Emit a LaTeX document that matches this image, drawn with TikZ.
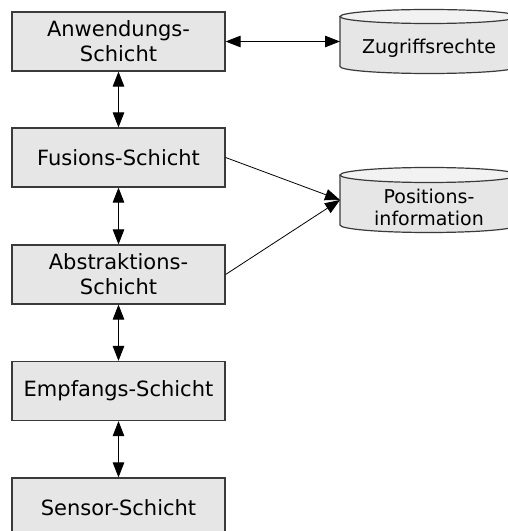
\documentclass[tikz,border=0pt]{standalone}
\usepackage{fontspec}
\setmainfont{DejaVu Sans}
\usetikzlibrary{arrows.meta}
\definecolor{boxfill}{HTML}{E6E6E6}
\definecolor{boxline}{HTML}{3A3A3A}
\definecolor{lidfill}{HTML}{F2F2F2}
% draws a data store (cylinder) around an empty node: #1 node name, #2 lid half-height
\newcommand\drawstore[2]{%
  \fill[boxfill] (#1.north west) -- (#1.south west)
    arc[start angle=180, end angle=360, x radius=89pt, y radius=#2] -- (#1.north east) -- cycle;
  \draw[boxline, line width=1.2pt] (#1.north west) -- (#1.south west)
    arc[start angle=180, end angle=360, x radius=89pt, y radius=#2] -- (#1.north east);
  \draw[boxline, line width=1.2pt, fill=lidfill] (#1.north) ellipse[x radius=89pt, y radius=#2];
}
\begin{document}
\begin{tikzpicture}[x=1pt, y=1pt,
  layer/.style={draw=boxline, line width=1.2pt, fill=boxfill, minimum width=213pt,
    minimum height=59pt, inner sep=0pt, align=center,
    font=\fontsize{21}{25}\selectfont},
  store/.style={minimum width=178pt, minimum height=50pt, inner sep=0pt, outer sep=0pt},
  storetext/.style={align=center, inner sep=0pt, font=\fontsize{19}{22}\selectfont},
  link/.style={line width=0.9pt,
    {Triangle[length=15pt,width=11.5pt]}-{Triangle[length=15pt,width=11.5pt]}},
  feed/.style={line width=0.8pt, -{Triangle[length=15pt,width=11.5pt]}}
]
\useasboundingbox (0,0) rectangle (508,531);
\clip (0,0) rectangle (508,531);

% layer stack
\node[layer] (app)  at (118.5,489.5) {Anwendungs-\\Schicht};
\node[layer] (fus)  at (118.5,373.5) {Fusions-Schicht};
\node[layer] (abs)  at (118.5,256.5) {Abstraktions-\\Schicht};
\node[layer] (rec)  at (118.5,140)   {Empfangs-Schicht};
\node[layer] (sen)  at (118.5,23.5)  {Sensor-Schicht};

% data stores
\node[store] (acc) at (429,489.5) {};
\drawstore{acc}{7pt}
\node[storetext] (acct) at ([yshift=-7pt]acc.center) {Zugriffsrechte};

\node[store] (pos) at (429,331) {};
\drawstore{pos}{7.5pt}
\node[storetext] (post) at ([yshift=-7.5pt]pos.center) {Positions-\\information};

% connectors
\draw[link] (app) -- (fus);
\draw[link] (fus) -- (abs);
\draw[link] (abs) -- (rec);
\draw[link] (rec) -- (sen);
\draw[link] (app) -- (acc);
\draw[feed] (fus.east) -- (pos.west);
\draw[feed] (abs.east) -- (pos.west);
\end{tikzpicture}
\end{document}
